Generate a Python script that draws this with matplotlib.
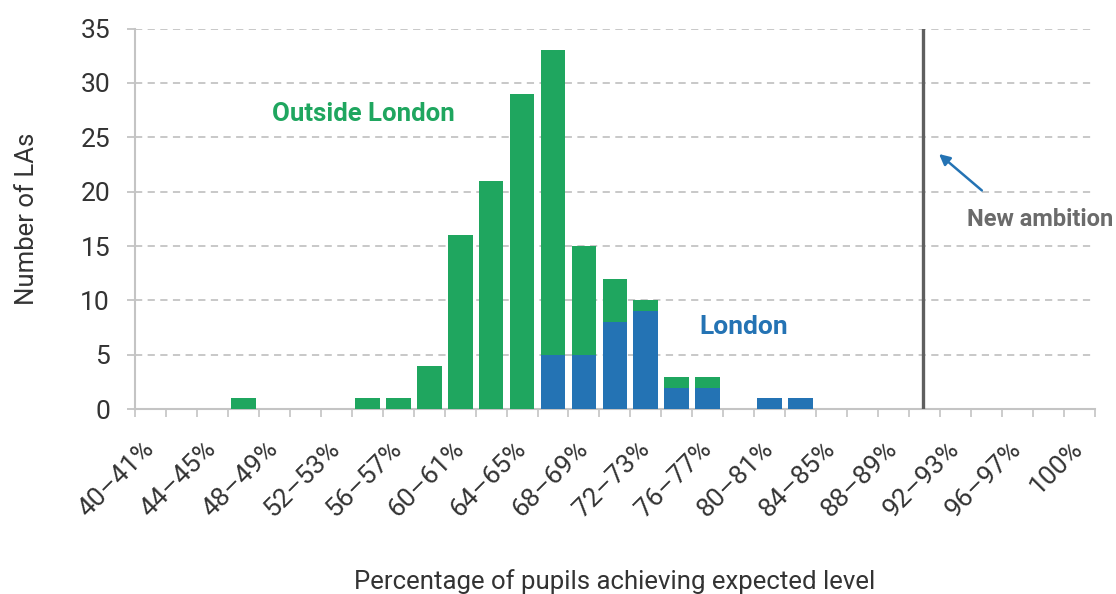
import matplotlib
matplotlib.use("Agg")
import matplotlib.pyplot as plt
import numpy as np

plt.rcParams['font.family'] = ['Roboto', 'DejaVu Sans']

# Categorias (bins de 2 puntos)
categories = ['40–41%', '42–43%', '44–45%', '46–47%', '48–49%', '50–51%', '52–53%',
              '54–55%', '56–57%', '58–59%', '60–61%', '62–63%', '64–65%', '66–67%',
              '68–69%', '70–71%', '72–73%', '74–75%', '76–77%', '78–79%', '80–81%',
              '82–83%', '84–85%', '86–87%', '88–89%', '90–91%', '92–93%', '94–95%',
              '96–97%', '98–99%', '100%']
london = [0, 0, 0, 0, 0, 0, 0, 0, 0, 0, 0, 0, 0, 5, 5, 8, 9, 2, 2, 0, 1, 1,
          0, 0, 0, 0, 0, 0, 0, 0, 0]
outside = [0, 0, 0, 1, 0, 0, 0, 1, 1, 4, 16, 21, 29, 28, 10, 4, 1, 1, 1, 0, 0, 0,
           0, 0, 0, 0, 0, 0, 0, 0, 0]
ambition_x = 24.95  # posicion de la linea "New ambition" (en unidades de categoria)

GREEN = '#1fa65f'
BLUE = '#2473b4'
GRID = '#c4c4c4'
TEXT = '#333333'

fig = plt.figure(figsize=(11.16, 5.94), dpi=100)
ax = fig.add_axes([0.121, 0.311, 0.860, 0.641])

x = np.arange(len(categories))
ax.bar(x, london, width=0.8, color=BLUE, linewidth=0, zorder=3)
ax.bar(x, outside, width=0.8, bottom=london, color=GREEN, linewidth=0, zorder=3)

ax.axvline(ambition_x, color='#5f5f5f', lw=2.4, zorder=4)

ax.set_xlim(-0.5, len(categories) - 0.5)
ax.set_ylim(0, 35)
ax.set_yticks(range(0, 36, 5))
ax.yaxis.grid(True, color=GRID, linestyle=(0, (4, 3)), lw=1.3, zorder=0)

ax.set_xticks(x[::2])
ax.set_xticklabels(categories[::2], rotation=45, ha='right', va='center',
                   rotation_mode='anchor', fontsize=19, color=TEXT)
ax.set_xticks(np.arange(-0.5, len(categories), 1), minor=True)
ax.tick_params(axis='x', which='major', length=0, pad=26)
ax.tick_params(axis='x', which='minor', length=6, width=1.2, color=GRID)
ax.tick_params(axis='y', length=6, width=1.3, color=GRID, pad=12,
               labelsize=19, labelcolor=TEXT)

for s in ['top', 'right']:
    ax.spines[s].set_visible(False)
for s in ['left', 'bottom']:
    ax.spines[s].set_color(GRID)
    ax.spines[s].set_linewidth(1.5)

ax.set_ylabel('Number of LAs', fontsize=18.5, color=TEXT, labelpad=30)
ax.set_xlabel('Percentage of pupils achieving expected level', fontsize=18.5,
              color=TEXT, labelpad=34)

ax.text(3.92, 27.1, 'Outside London', color=GREEN, fontsize=18.5,
        fontweight='bold', va='center', ha='left')
ax.text(17.73, 7.54, 'London', color=BLUE, fontsize=19,
        fontweight='bold', va='center', ha='left')
ax.text(26.37, 17.47, 'New ambition', color='#6b6b6b', fontsize=17,
        fontweight='bold', va='center', ha='left', clip_on=False)
ax.annotate('', xy=(25.4, 23.63), xytext=(26.92, 19.95),
            arrowprops=dict(arrowstyle='-|>', color=BLUE, lw=1.8,
                            mutation_scale=16))

fig.savefig('out.png', dpi=100)
